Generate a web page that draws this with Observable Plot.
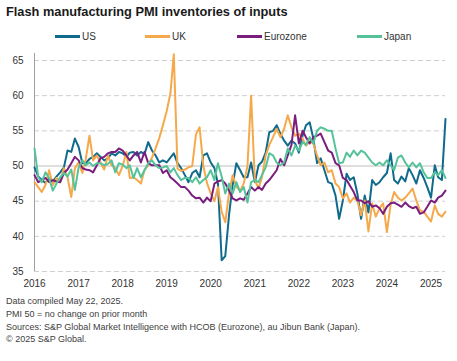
<!DOCTYPE html>
<html><head><meta charset="utf-8">
<script src="https://cdn.jsdelivr.net/npm/d3@7"></script>
<script src="https://cdn.jsdelivr.net/npm/@observablehq/plot@0.6"></script>
<style>
body{margin:0;background:#fff;font-family:"Liberation Sans",Arial,sans-serif;}
#wrap{position:relative;width:457px;height:361px;overflow:hidden}
#title{position:absolute;left:6px;top:4px;font-weight:bold;font-size:12.8px;color:#1a1a1a;white-space:nowrap}
.leg{position:absolute;top:30px;height:12px;font-size:10px;color:#333;display:flex;align-items:center;white-space:nowrap}
.sw{display:inline-block;width:25px;height:3px;margin-right:2px}
#chart{position:absolute;left:0;top:50px}
#foot{position:absolute;left:6px;top:295px;font-size:9px;color:#404040;line-height:12.8px;white-space:nowrap}
</style></head>
<body><div id="wrap">
<div id="title">Flash manufacturing PMI inventories of inputs</div>
<div id="legend"></div>
<div id="chart"></div>
<div id="foot">Data compiled May 22, 2025.<br>PMI 50 = no change on prior month<br>Sources: S&amp;P Global Market Intelligence with HCOB (Eurozone), au Jibun Bank (Japan).<br>© 2025 S&amp;P Global.</div>
</div>
<script>
const seriesNames = ["US", "UK", "Eurozone", "Japan"];
const seriesColors = ["#0f6a8b", "#f5a94a", "#7a1d7e", "#55c39a"];
const yearLabels = [2016, 2017, 2018, 2019, 2020, 2021, 2022, 2023, 2024, 2025];
const yTicks = [35, 40, 45, 50, 55, 60, 65];

const us = [
 49.8, 48.5, 48.0, 47.6, 48.2, 47.8, 48.5, 49.1, 49.8, 52.2, 52.0, 53.9,
 52.7, 50.4, 50.4, 51.0, 51.3, 51.8, 51.3, 50.8, 51.1, 51.8, 51.5, 52.0,
 51.8, 51.3, 51.9, 52.0, 51.5, 52.0, 51.7, 53.4, 52.2, 51.5, 50.5, 50.8,
 50.5, 51.2, 51.8, 50.4, 49.7, 48.7, 47.7, 49.0, 49.4, 48.4, 51.5, 51.8,
 50.5, 49.7, 47.5, 36.6, 37.2, 43.0, 47.3, 50.4, 49.4, 48.4, 48.4, 50.5,
 47.7, 50.1, 50.6, 51.9, 54.8, 55.0, 55.8, 54.6, 53.6, 52.9, 53.6, 53.2,
 51.9, 54.3, 55.8, 56.2, 53.9, 50.4, 51.1, 49.4, 47.7, 47.5, 45.8, 42.5,
 45.1, 48.9, 48.0, 48.4, 46.1, 42.5, 45.8, 43.4, 48.0, 47.3, 47.7, 48.4,
 49.0, 51.8, 48.0, 47.5, 48.5, 47.8, 49.7, 48.7, 47.5, 49.4, 48.3, 47.0,
 45.5, 50.1, 48.4, 48.0, 56.7
];
const uk = [
 47.7, 47.0, 46.3, 47.3, 49.4, 47.3, 48.3, 47.7, 49.7, 48.4, 45.6, 49.7,
 50.5, 49.0, 51.0, 54.3, 50.8, 51.5, 50.5, 49.5, 51.5, 50.1, 49.7, 48.7,
 50.0, 52.0, 48.3, 48.4, 48.0, 47.5, 49.4, 50.1, 51.2, 52.5, 54.0, 55.8,
 57.8, 60.3, 65.9, 49.6, 49.3, 49.5, 49.8, 50.0, 54.5, 55.5, 50.0, 47.6,
 46.1, 45.0, 47.0, 43.5, 42.0, 46.1, 48.7, 47.0, 46.5, 47.5, 50.0, 60.0,
 48.0, 46.8, 48.4, 51.5, 53.0, 54.1, 55.3, 54.1, 55.3, 57.2, 55.5, 54.3,
 54.6, 53.9, 52.9, 53.5, 53.2, 51.5, 50.1, 50.5, 49.1, 49.4, 47.5, 47.0,
 45.4, 46.1, 44.8, 45.5, 45.1, 43.0, 45.1, 40.7, 44.7, 42.8, 44.0, 44.7,
 40.6, 44.5, 46.3, 45.5, 45.1, 45.5, 46.1, 46.8, 45.1, 43.7, 43.5, 42.8,
 42.1, 44.4, 43.2, 42.8, 43.5
];
const eurozone = [
 48.7, 47.7, 48.0, 48.3, 47.7, 48.0, 47.8, 47.7, 49.0, 49.5, 50.4, 51.3,
 50.8, 49.7, 49.5, 49.4, 49.1, 50.1, 51.1, 51.3, 51.8, 52.0, 52.0, 52.5,
 52.2, 51.5, 50.8, 51.5, 52.0, 50.5, 52.0, 50.4, 50.1, 50.1, 50.1, 49.0,
 49.4, 48.4, 48.0, 47.5, 47.0, 47.0, 46.5, 45.8, 45.4, 45.5, 44.8, 45.5,
 45.0, 47.5, 47.8, 48.0, 47.5, 46.5, 45.4, 45.1, 45.4, 45.2, 46.1, 47.0,
 46.5, 47.0, 46.6, 47.5, 48.0, 48.7, 49.4, 51.0, 50.1, 51.5, 53.0, 57.2,
 53.2, 55.0, 54.1, 53.2, 54.1, 54.3, 54.6, 53.4, 52.2, 51.9, 50.4, 50.1,
 48.3, 48.0, 47.2, 46.3, 45.1, 45.1, 44.7, 45.0, 44.2, 44.4, 44.0, 43.2,
 44.2, 44.7, 44.8, 44.5, 44.2, 44.8, 44.3, 44.0, 44.2, 43.2, 43.4, 44.2,
 45.1, 44.8, 45.5, 45.8, 46.5
];
const japan = [
 52.5, 48.4, 47.7, 49.1, 48.3, 46.5, 47.5, 48.4, 49.0, 48.5, 49.5, 46.6,
 49.8, 50.8, 50.1, 50.5, 50.0, 50.4, 50.4, 50.1, 50.3, 50.8, 49.1, 50.4,
 50.2, 49.7, 50.1, 48.3, 49.7, 48.4, 49.4, 50.4, 50.8, 50.1, 49.7, 49.8,
 50.0, 49.1, 49.7, 48.7, 48.0, 48.3, 48.3, 47.7, 48.4, 47.5, 48.0, 48.4,
 49.4, 48.0, 50.4, 48.5, 46.1, 47.5, 46.1, 47.7, 46.3, 47.0, 44.8, 47.7,
 48.0, 47.7, 48.7, 49.8, 51.8, 51.5, 50.5, 50.1, 50.5, 52.5, 51.5, 52.9,
 52.2, 53.4, 53.0, 54.1, 53.2, 55.0, 55.5, 55.3, 55.0, 55.0, 52.5, 50.4,
 50.5, 51.9, 51.3, 52.2, 51.5, 52.2, 51.9, 51.2, 50.5, 50.1, 50.5, 50.1,
 50.8, 50.1, 49.4, 51.2, 51.5, 50.5, 49.8, 50.5, 49.8, 50.4, 49.1, 48.3,
 48.3, 49.1, 48.7, 49.4, 48.3
];

const values = [us, uk, eurozone, japan];
const dates = d3.utcMonth.range(new Date(Date.UTC(2016, 0, 1)), new Date(Date.UTC(2025, 5, 1)));
const rows = seriesNames.flatMap((name, k) => values[k].map((v, i) => ({date: dates[i], value: v, series: name})));
const yearDates = yearLabels.map(y => new Date(Date.UTC(y, 0, 1)));

// legend
const legPos = [55, 145, 237, 357];
const leg = document.getElementById("legend");
seriesNames.forEach((n, i) => {
  const d = document.createElement("div");
  d.className = "leg";
  d.style.left = legPos[i] + "px";
  d.innerHTML = `<span class="sw" style="background:${seriesColors[i]}"></span>${n}`;
  leg.appendChild(d);
});

const chart = Plot.plot({
  width: 457, height: 244,
  marginLeft: 34, marginRight: 12, marginTop: 10, marginBottom: 23,
  style: {fontFamily: "'Liberation Sans', Arial, sans-serif", fontSize: "10px", color: "#333", background: "transparent"},
  x: {type: "utc", domain: [dates[0], dates[dates.length - 1]]},
  y: {domain: [35, 65]},
  color: {domain: seriesNames, range: seriesColors},
  marks: [
    Plot.ruleY(yTicks.filter(d => d !== 50), {stroke: "#cfcfcf", strokeDasharray: "5,3", strokeWidth: 1}),
    Plot.ruleY([50], {stroke: "#bdbdbd", strokeWidth: 1.2}),
    Plot.ruleX([dates[0]], {y1: 66, y2: 35, stroke: "#a0a0a0", strokeWidth: 1}),
    Plot.axisY({ticks: yTicks, tickSize: 0, tickPadding: 11, fontSize: 10, label: null}),
    Plot.axisX({ticks: yearDates, tickFormat: "%Y", tickSize: 0, tickPadding: 8, fontSize: 10, label: null}),
    Plot.line(rows, {x: "date", y: "value", z: "series", stroke: "series", strokeWidth: 2, strokeLinejoin: "round"})
  ]
});
document.getElementById("chart").appendChild(chart);
</script>
</body></html>
